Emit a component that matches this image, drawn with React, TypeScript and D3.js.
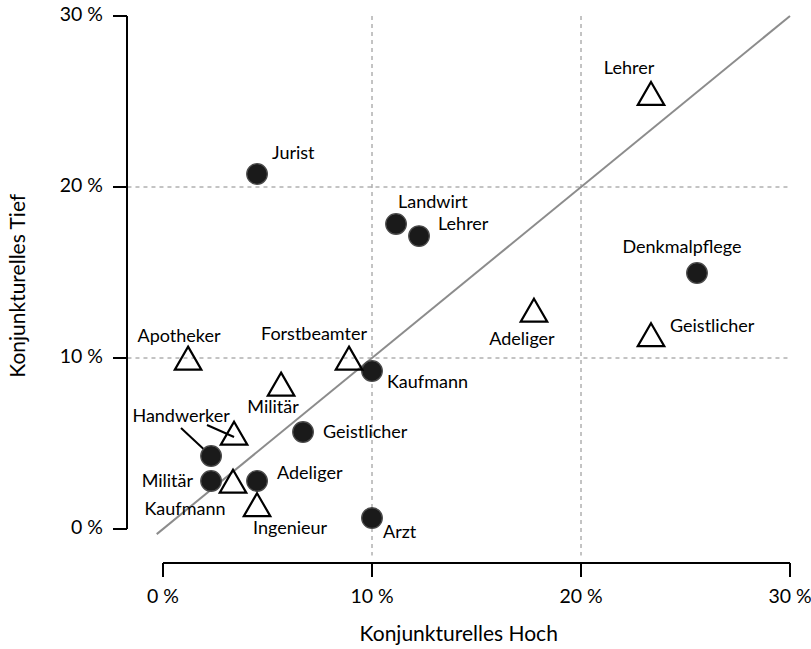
import React from "react";
import * as d3 from "d3";

// Data (percent values)
const circleNames = ["Jurist", "Landwirt", "Lehrer", "Denkmalpflege", "Kaufmann", "Geistlicher", "Handwerker", "Militär", "Adeliger", "Arzt"];
const circleHoch = [4.5, 11.15, 12.25, 25.55, 10.0, 6.7, 2.3, 2.3, 4.5, 10.0];
const circleTief = [20.76, 17.84, 17.13, 14.97, 9.24, 5.67, 4.27, 2.81, 2.81, 0.64];

const triNames = ["Lehrer", "Adeliger", "Geistlicher", "Apotheker", "Forstbeamter", "Militär", "Handwerker", "Kaufmann", "Ingenieur"];
const triHoch = [23.35, 17.75, 23.35, 1.2, 8.9, 5.65, 3.4, 3.35, 4.5];
const triTief = [25.25, 12.57, 11.14, 9.77, 9.77, 8.25, 5.38, 2.57, 1.2];

const ticks = [0, 10, 20, 30];
const gridTicks = [10, 20];

// label placement (pixel offsets from marker, text anchor)
const circleLabelPos: [number, number, string][] = [
  [15, -20, "start"],
  [2, -20, "start"],
  [19, -11, "start"],
  [-15, -25, "middle"],
  [15, 12, "start"],
  [20, 1, "start"],
  [-30, -39, "middle"],
  [-18, 1, "end"],
  [20, -7, "start"],
  [11, 15, "start"],
];
const triLabelPos: [number, number, string][] = [
  [-22, -28, "middle"],
  [-12, 26, "middle"],
  [19, -11, "start"],
  [-9, -24, "middle"],
  [-35, -26, "middle"],
  [-8, 21, "middle"],
  [0, 0, "none"],
  [-48, 25, "middle"],
  [33, 21, "middle"],
];

export default function App() {
  const W = 811, H = 649;
  const x = d3.scaleLinear().domain([0, 30]).range([163, 790]);
  const y = d3.scaleLinear().domain([0, 30]).range([529, 16]);
  const xMinPlot = -1.7, yMinPlot = -1.55;
  const font = "Lato, 'Noto Sans', sans-serif";
  const fs = 18;
  const fsTick = 19.5;
  const fsTitle = 21;

  const triPath = (cx: number, cy: number) => {
    const r = 15.3;
    const xc = r * 0.866;
    return `M${cx},${cy - r}L${cx + xc},${cy + r / 2}L${cx - xc},${cy + r / 2}Z`;
  };

  const hw = circleNames.indexOf("Handwerker");
  const hwT = triNames.indexOf("Handwerker");
  const xTitleC = (x(xMinPlot) + x(30)) / 2;
  const yTitleC = (y(yMinPlot) + y(30)) / 2;

  return (
    <svg width={W} height={H} style={{ position: "absolute", left: 0, top: 0, background: "#fff" }} fontFamily={font}>
      {/* grid */}
      {gridTicks.map((t) => (
        <line key={"gv" + t} x1={x(t)} x2={x(t)} y1={y(30)} y2={y(yMinPlot)} stroke="#888" strokeWidth={1} strokeDasharray="4,4" />
      ))}
      {gridTicks.map((t) => (
        <line key={"gh" + t} y1={y(t)} y2={y(t)} x1={x(xMinPlot)} x2={x(30)} stroke="#888" strokeWidth={1} strokeDasharray="4,4" />
      ))}
      {/* diagonal */}
      <line x1={x(-0.3)} y1={y(-0.3)} x2={x(30)} y2={y(30)} stroke="#8c8c8c" strokeWidth={2} />

      {/* x axis */}
      <line x1={x(0)} x2={x(30)} y1={563} y2={563} stroke="#000" strokeWidth={2} />
      {ticks.map((t) => (
        <g key={"xt" + t}>
          <line x1={x(t)} x2={x(t)} y1={563} y2={577} stroke="#000" strokeWidth={2} />
          <text x={x(t)} y={598} textAnchor="middle" dominantBaseline="middle" fontSize={fsTick}>{t} %</text>
        </g>
      ))}
      <text x={xTitleC} y={636} textAnchor="middle" dominantBaseline="middle" fontSize={fsTitle}>Konjunkturelles Hoch</text>

      {/* y axis */}
      <line x1={127} x2={127} y1={y(0)} y2={y(30)} stroke="#000" strokeWidth={2} />
      {ticks.map((t) => (
        <g key={"yt" + t}>
          <line x1={113} x2={127} y1={y(t)} y2={y(t)} stroke="#000" strokeWidth={2} />
          <text x={103} y={y(t)} textAnchor="end" dominantBaseline="middle" fontSize={fsTick}>{t} %</text>
        </g>
      ))}
      <text transform={`translate(20,${yTitleC}) rotate(-90)`} textAnchor="middle" dominantBaseline="middle" fontSize={fsTitle}>Konjunkturelles Tief</text>

      {/* leader lines for Handwerker */}
      <line x1={181} y1={428} x2={x(circleHoch[hw])} y2={y(circleTief[hw])} stroke="#000" strokeWidth={2} />
      <line x1={207} y1={425} x2={x(triHoch[hwT])} y2={y(triTief[hwT])} stroke="#000" strokeWidth={2} />

      {/* circles */}
      {circleNames.map((n, i) => (
        <circle key={"c" + i} cx={x(circleHoch[i])} cy={y(circleTief[i])} r={10.3} fill="#1a1a1a" stroke="#4a4a4a" strokeWidth={1.3} />
      ))}
      {/* triangles */}
      {triNames.map((n, i) => (
        <path key={"t" + i} d={triPath(x(triHoch[i]), y(triTief[i]))} fill="none" stroke="#000" strokeWidth={2.2} strokeLinejoin="miter" />
      ))}

      {/* labels */}
      {circleNames.map((n, i) => {
        const [dx, dy, a] = circleLabelPos[i];
        return (
          <text key={"cl" + i} x={x(circleHoch[i]) + dx} y={y(circleTief[i]) + dy} textAnchor={a} dominantBaseline="middle" fontSize={fs}>{n}</text>
        );
      })}
      {triNames.map((n, i) => {
        const [dx, dy, a] = triLabelPos[i];
        if (a === "none") return null;
        return (
          <text key={"tl" + i} x={x(triHoch[i]) + dx} y={y(triTief[i]) + dy} textAnchor={a} dominantBaseline="middle" fontSize={fs}>{n}</text>
        );
      })}
    </svg>
  );
}
